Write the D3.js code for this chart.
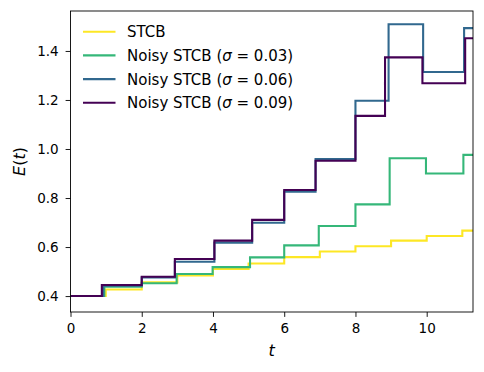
<!DOCTYPE html>
<html lang="en">
<head>
    <meta charset="UTF-8">
    <title>E(t) steps</title>
    <script src="https://d3js.org/d3.v7.min.js"></script>
    <style>
        body { margin: 0; background: #fff; }
        text { font-family: "DejaVu Sans", sans-serif; fill: #000; }
    </style>
</head>
<body>
    <script>
        // Datos (escalones 'post')
        const seriesLabels = ['STCB', 'Noisy STCB', 'Noisy STCB', 'Noisy STCB'];
        const sigmas = [null, '0.03', '0.06', '0.09'];
        const colores = ['#fde725', '#35b779', '#31688e', '#440154'];

        const stcbT = [0, 0.99, 2.0, 3.0, 4.0, 5.0, 6.0, 7.0, 8.0, 9.0, 10.0, 11.0];
        const stcbE = [0.400, 0.427, 0.456, 0.484, 0.511, 0.533, 0.559, 0.582, 0.603, 0.626, 0.645, 0.667];

        const s03T = [0, 0.95, 2.0, 2.98, 3.99, 5.04, 6.0, 6.97, 8.0, 8.96, 9.98, 11.03];
        const s03E = [0.400, 0.438, 0.452, 0.490, 0.518, 0.558, 0.607, 0.686, 0.774, 0.962, 0.900, 0.976];

        const s06T = [0, 0.92, 2.0, 2.93, 4.04, 5.1, 6.0, 6.88, 8.0, 8.93, 9.9, 11.05];
        const s06E = [0.400, 0.442, 0.476, 0.540, 0.618, 0.699, 0.826, 0.959, 1.197, 1.509, 1.314, 1.493];

        const s09T = [0, 0.88, 2.0, 2.93, 4.04, 5.1, 6.0, 6.88, 8.0, 8.83, 9.88, 11.08];
        const s09E = [0.400, 0.445, 0.479, 0.551, 0.626, 0.711, 0.833, 0.952, 1.135, 1.374, 1.268, 1.452];

        const xTicks = [0, 2, 4, 6, 8, 10];
        const yTicks = [0.4, 0.6, 0.8, 1.0, 1.2, 1.4];

        const W = 484, H = 372;
        const m = { left: 70.5, right: 11, top: 11, bottom: 60 };
        const xMax = 11.3;

        const svg = d3.select('body').append('svg').attr('width', W).attr('height', H);

        const x = d3.scaleLinear().domain([0, xMax]).range([m.left, W - m.right]);
        const y = d3.scaleLinear().domain([0.335, 1.563]).range([H - m.bottom, m.top]);

        svg.append('defs').append('clipPath').attr('id', 'clip')
            .append('rect')
            .attr('x', m.left).attr('y', m.top)
            .attr('width', W - m.right - m.left).attr('height', H - m.bottom - m.top);

        const series = [[stcbT, stcbE], [s03T, s03E], [s06T, s06E], [s09T, s09E]];

        const linea = d3.line()
            .x(d => x(d[0]))
            .y(d => y(d[1]))
            .curve(d3.curveStepAfter);

        series.forEach(([ts, es], i) => {
            const pts = ts.map((t, k) => [t, es[k]]);
            pts.push([xMax, es[es.length - 1]]);
            svg.append('path')
                .attr('clip-path', 'url(#clip)')
                .attr('d', linea(pts))
                .attr('fill', 'none')
                .attr('stroke', colores[i])
                .attr('stroke-width', 2.1);
        });

        // Ejes
        const ejeX = svg.append('g')
            .attr('transform', `translate(0,${H - m.bottom})`)
            .call(d3.axisBottom(x).tickValues(xTicks).tickFormat(d3.format('d')).tickSize(4.9).tickPadding(6.5));
        const ejeY = svg.append('g')
            .attr('transform', `translate(${m.left},0)`)
            .call(d3.axisLeft(y).tickValues(yTicks).tickFormat(d3.format('.1f')).tickSize(4.9).tickPadding(7));
        [ejeX, ejeY].forEach(g => {
            g.select('.domain').remove();
            g.selectAll('line').attr('stroke', '#000').attr('stroke-width', 0.9);
            g.selectAll('text').style('font-family', '"DejaVu Sans", sans-serif').style('font-size', '13.5px').attr('fill', '#000');
        });

        svg.append('rect')
            .attr('x', m.left).attr('y', m.top)
            .attr('width', W - m.right - m.left).attr('height', H - m.bottom - m.top)
            .attr('fill', 'none').attr('stroke', '#000').attr('stroke-width', 0.9);

        // Etiquetas de ejes
        svg.append('text')
            .attr('x', (m.left + W - m.right) / 2).attr('y', 356)
            .attr('text-anchor', 'middle')
            .style('font-size', '16px').style('font-style', 'italic')
            .text('t');

        const ylab = svg.append('text')
            .attr('transform', `translate(25,${(m.top + H - m.bottom) / 2}) rotate(-90)`)
            .attr('text-anchor', 'middle')
            .style('font-size', '16px');
        ylab.append('tspan').style('font-style', 'italic').text('E');
        ylab.append('tspan').text('(');
        ylab.append('tspan').style('font-style', 'italic').text('t');
        ylab.append('tspan').text(')');

        // Leyenda
        const leyenda = svg.append('g');
        seriesLabels.forEach((lab, i) => {
            const yy = 31.7 + i * 23.7;
            leyenda.append('line')
                .attr('x1', 83).attr('x2', 115.5).attr('y1', yy).attr('y2', yy)
                .attr('stroke', colores[i]).attr('stroke-width', 2.1);
            const t = leyenda.append('text')
                .attr('x', 127).attr('y', yy + 5.6)
                .style('font-size', '15px');
            t.append('tspan').text(lab);
            if (sigmas[i]) {
                t.append('tspan').text(' (');
                t.append('tspan').style('font-style', 'italic').text('σ');
                t.append('tspan').text(' = ' + sigmas[i] + ')');
            }
        });
    </script>
</body>
</html>
